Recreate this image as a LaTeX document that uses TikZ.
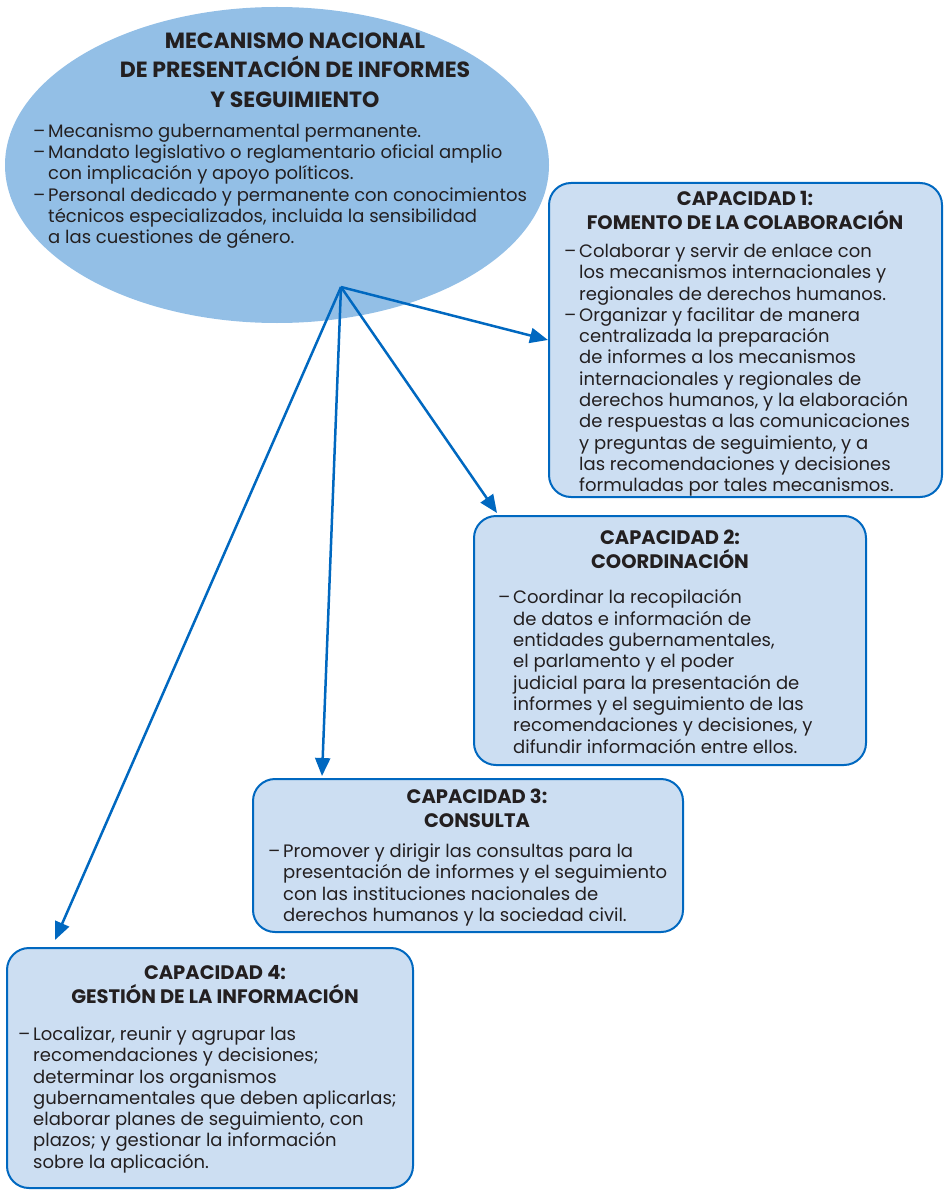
\documentclass[tikz,border=0pt]{standalone}
\usepackage{fontspec}
\setmainfont{Poppins}
\usetikzlibrary{shapes.geometric,arrows.meta}
\definecolor{ellfill}{RGB}{147,191,230}
\definecolor{capfill}{RGB}{204,222,242}
\definecolor{capblue}{RGB}{0,104,192}
\definecolor{txt}{RGB}{35,31,32}
\newcommand{\itm}{\makebox[15pt][l]{–}}
\newcommand{\cnt}{\hspace*{15pt}}
\tikzset{
	main node/.style={ellipse, fill=ellfill, minimum width=544pt, minimum height=316pt, inner sep=0},
	cap node/.style={rectangle, draw=capblue, line width=2pt, fill=capfill, rounded corners=22pt, inner sep=0},
	main title/.style={align=center, anchor=north, inner sep=0, text=txt, font=\bfseries\fontsize{22}{29.5}\selectfont},
	cap title/.style={align=center, anchor=north, inner sep=0, text=txt, font=\bfseries\fontsize{19.5}{24}\selectfont},
	body text/.style={align=left, anchor=north west, inner sep=0, text=txt, font=\fontsize{18}{21.3}\selectfont},
	link/.style={draw=capblue, line width=2.5pt, -{Triangle[length=18pt,width=15pt]}},
}

\begin{document}
\begin{tikzpicture}[x=1pt, y=-1pt]
  \useasboundingbox (0,0) rectangle (944,1190);

  \node(mec)[main node] at (277,165) {};
  \node(mectitle)[main title] at (295,32.5) {MECANISMO NACIONAL\\DE PRESENTACIÓN DE INFORMES\\Y SEGUIMIENTO};
  \node(mecbody)[body text] at (33,123.5) {\itm Mecanismo gubernamental permanente.\\
    \itm Mandato legislativo o reglamentario oficial amplio\\
    \cnt con implicación y apoyo políticos.\\
    \itm Personal dedicado y permanente con conocimientos\\
    \cnt técnicos especializados, incluida la sensibilidad\\
    \cnt a las cuestiones de género.};

  \node(cap1)[cap node, minimum width=393pt, minimum height=314pt] at (745.5,340) {};
  \node(cap1title)[cap title] at (745,191) {CAPACIDAD 1:\\FOMENTO DE LA COLABORACIÓN};
  \node(cap1body)[body text] at (564,243.5) {\itm Colaborar y servir de enlace con\\
    \cnt los mecanismos internacionales y\\
    \cnt regionales de derechos humanos.\\
    \itm Organizar y facilitar de manera\\
    \cnt centralizada la preparación\\
    \cnt de informes a los mecanismos\\
    \cnt internacionales y regionales de\\
    \cnt derechos humanos, y la elaboración\\
    \cnt de respuestas a las comunicaciones\\
    \cnt y preguntas de seguimiento, y a\\
    \cnt las recomendaciones y decisiones\\
    \cnt formuladas por tales mecanismos.};

  \node(cap2)[cap node, minimum width=392pt, minimum height=249pt] at (670,640.5) {};
  \node(cap2title)[cap title] at (670,530) {CAPACIDAD 2:\\COORDINACIÓN};
  \node(cap2body)[body text] at (498,589.5) {\itm Coordinar la recopilación\\
    \cnt de datos e información de\\
    \cnt entidades gubernamentales,\\
    \cnt el parlamento y el poder\\
    \cnt judicial para la presentación de\\
    \cnt informes y el seguimiento de las\\
    \cnt recomendaciones y decisiones, y\\
    \cnt difundir información entre ellos.};

  \node(cap3)[cap node, minimum width=430pt, minimum height=153pt] at (468,855.5) {};
  \node(cap3title)[cap title] at (477,789) {CAPACIDAD 3:\\CONSULTA};
  \node(cap3body)[body text] at (268,843.5) {\itm Promover y dirigir las consultas para la\\
    \cnt presentación de informes y el seguimiento\\
    \cnt con las instituciones nacionales de\\
    \cnt derechos humanos y la sociedad civil.};

  \node(cap4)[cap node, minimum width=406pt, minimum height=240pt] at (210,1068) {};
  \node(cap4title)[cap title] at (215,965) {CAPACIDAD 4:\\GESTIÓN DE LA INFORMACIÓN};
  \node(cap4body)[body text] at (18,1026.5) {\itm Localizar, reunir y agrupar las\\
    \cnt recomendaciones y decisiones;\\
    \cnt determinar los organismos\\
    \cnt gubernamentales que deben aplicarlas;\\
    \cnt elaborar planes de seguimiento, con\\
    \cnt plazos; y gestionar la información\\
    \cnt sobre la aplicación.};

  \coordinate(hub) at (341,287);
  \draw[link] (hub) -- (cap1.west);
  \draw[link] (hub) -- ([xshift=24pt,yshift=2pt]cap2.north west);
  \draw[link] (hub) -- ([xshift=70pt,yshift=2pt]cap3.north west);
  \draw[link] (hub) -- ([xshift=49pt,yshift=7pt]cap4.north west);
\end{tikzpicture}
\end{document}
